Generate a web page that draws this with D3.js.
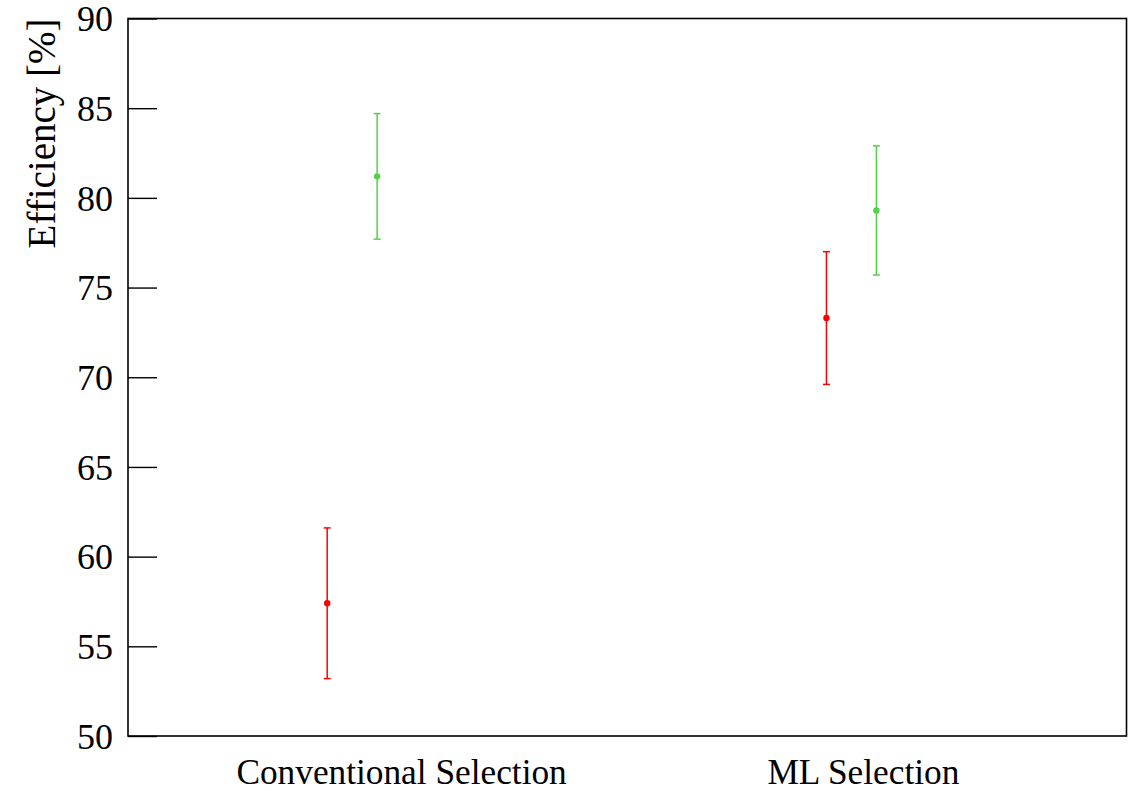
<!DOCTYPE html>
<html>
<head>
<meta charset="utf-8">
<script src="https://d3js.org/d3.v7.min.js"></script>
<style>
  html, body { margin: 0; padding: 0; background: #fff; }
  svg { display: block; }
</style>
</head>
<body>
<script>
  // values
  const categories = ['Conventional Selection', 'ML Selection']
  const series = ['red', 'green']
  const redValues = [57.4, 73.3]
  const redErrors = [4.2, 3.7]
  const greenValues = [81.2, 79.3]
  const greenErrors = [3.5, 3.6]
  const yTicks = [50, 55, 60, 65, 70, 75, 80, 85, 90]

  const width = 1130
  const height = 791
  const margin = { top: 18.5, right: 3.5, bottom: 55, left: 128 }
  const colors = { red: '#ff0000', green: '#55d04a' }
  const font = '"Liberation Serif", "Times New Roman", serif'

  // where the groups and their labels sit along the x axis (fraction of width)
  const groupPos = [0.2245, 0.7245]
  const labelPos = [0.274, 0.7365]
  const seriesOffset = { red: -0.025, green: 0.025 }

  const x = d3.scaleLinear().domain([0, 1]).range([margin.left, width - margin.right])
  const y = d3.scaleLinear().domain([50, 90]).range([height - margin.bottom, margin.top])

  const svg = d3.select('body').append('svg')
    .attr('width', width)
    .attr('height', height)

  const points = []
  categories.forEach((c, i) => {
    points.push({ series: 'red', i, value: redValues[i], err: redErrors[i] })
    points.push({ series: 'green', i, value: greenValues[i], err: greenErrors[i] })
  })

  // frame
  svg.append('rect')
    .attr('x', x(0))
    .attr('y', y(90))
    .attr('width', x(1) - x(0))
    .attr('height', y(50) - y(90))
    .attr('fill', 'none')
    .attr('stroke', '#000')
    .attr('stroke-width', 1.6)

  // y axis, ticks pointing inward
  const yAxis = svg.append('g')
    .attr('transform', `translate(${x(0)},0)`)
    .call(d3.axisRight(y).tickValues(yTicks).tickSize(29).tickFormat(d3.format('d')))
  yAxis.select('.domain').remove()
  yAxis.selectAll('.tick line').attr('stroke', '#000').attr('stroke-width', 1.4)
  yAxis.selectAll('.tick text')
    .attr('x', -15)
    .attr('dy', '0.34em')
    .attr('text-anchor', 'end')
    .attr('font-family', font)
    .attr('font-size', 36)
    .attr('fill', '#000')

  svg.append('text')
    .attr('transform', `translate(55,${margin.top}) rotate(-90)`)
    .attr('text-anchor', 'end')
    .attr('font-family', font)
    .attr('font-size', 39)
    .text('Efficiency [%]')

  // category labels
  svg.append('g')
    .selectAll('text')
    .data(categories)
    .join('text')
    .attr('x', (d, i) => x(labelPos[i]))
    .attr('y', 784)
    .attr('text-anchor', 'middle')
    .attr('font-family', font)
    .attr('font-size', 35.3)
    .text(d => d)

  // error bars
  const cap = 3.5
  const bars = svg.append('g')
    .selectAll('g')
    .data(points)
    .join('g')
    .attr('stroke', d => colors[d.series])
    .attr('fill', d => colors[d.series])
    .attr('stroke-width', 1.5)

  bars.append('line')
    .attr('x1', d => x(groupPos[d.i] + seriesOffset[d.series]))
    .attr('x2', d => x(groupPos[d.i] + seriesOffset[d.series]))
    .attr('y1', d => y(d.value - d.err))
    .attr('y2', d => y(d.value + d.err))
  bars.append('line')
    .attr('x1', d => x(groupPos[d.i] + seriesOffset[d.series]) - cap)
    .attr('x2', d => x(groupPos[d.i] + seriesOffset[d.series]) + cap)
    .attr('y1', d => y(d.value + d.err))
    .attr('y2', d => y(d.value + d.err))
  bars.append('line')
    .attr('x1', d => x(groupPos[d.i] + seriesOffset[d.series]) - cap)
    .attr('x2', d => x(groupPos[d.i] + seriesOffset[d.series]) + cap)
    .attr('y1', d => y(d.value - d.err))
    .attr('y2', d => y(d.value - d.err))
  bars.append('circle')
    .attr('cx', d => x(groupPos[d.i] + seriesOffset[d.series]))
    .attr('cy', d => y(d.value))
    .attr('r', 3.2)
    .attr('stroke', 'none')
</script>
</body>
</html>
